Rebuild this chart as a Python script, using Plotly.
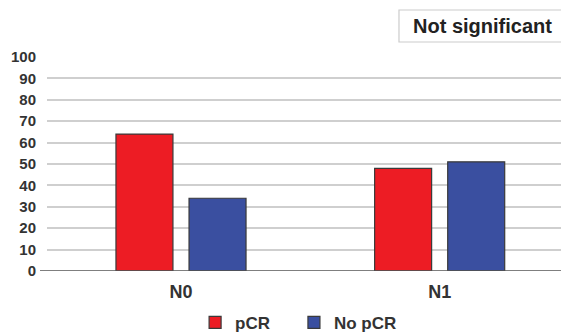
import plotly.graph_objects as go

categories = ["N0", "N1"]
pcr_values = [64, 48]
no_pcr_values = [34, 51]
y_ticks = [0, 10, 20, 30, 40, 50, 60, 70, 80, 90, 100]
series_names = ["pCR\u00a0\u00a0\u00a0\u00a0", "No pCR"]

FONT = "Liberation Sans, Arial, sans-serif"

fig = go.Figure()
fig.add_trace(go.Bar(
    x=categories, y=pcr_values, name=series_names[0],
    marker=dict(color="#ED1C24", line=dict(color="#3a3a3a", width=1.2)),
))
fig.add_trace(go.Bar(
    x=categories, y=no_pcr_values, name=series_names[1],
    marker=dict(color="#3A4FA0", line=dict(color="#3a3a3a", width=1.2)),
))

# page has an 8px body margin, so figure is 8px smaller and shifted
fig.update_layout(
    width=561, height=328,
    margin=dict(l=39, r=0, t=49, b=65),
    paper_bgcolor="white", plot_bgcolor="white",
    barmode="group", bargap=0.435, bargroupgap=0.22,
    font=dict(family=FONT, color="#333333"),
    showlegend=True,
    legend=dict(
        orientation="h", xref="container", yref="container",
        x=0.518, xanchor="center", y=0.04, yanchor="middle",
        font=dict(size=17, weight="bold", color="#333333"),
        traceorder="normal",
    ),
    xaxis=dict(
        type="category", range=[-0.518, 1.5],
        showgrid=False, showline=False, zeroline=False,
        ticks="outside", ticklen=4, tickcolor="rgba(0,0,0,0)",
        tickfont=dict(size=18, weight="bold", color="#333333"),
    ),
    yaxis=dict(
        range=[0, 100], tickvals=y_ticks,
        showgrid=True, gridcolor="#cfcfcf", gridwidth=1.5,
        zeroline=False, showline=False,
        ticks="outside", ticklen=7, tickcolor="rgba(0,0,0,0)",
        tickfont=dict(size=15, weight="bold", color="#333333"),
    ),
    shapes=[
        dict(type="line", xref="paper", yref="y",
             x0=-0.0134, x1=1, y0=0, y1=0,
             line=dict(color="#555555", width=1.5)),
        dict(type="rect", xref="paper", yref="paper",
             x0=0.6743, x1=0.9962, y0=1.070, y1=1.2196,
             fillcolor="white", line=dict(color="#cccccc", width=1.2)),
    ],
    annotations=[dict(
        text="Not significant", xref="paper", yref="paper",
        x=0.835, y=1.145, xanchor="center", yanchor="middle",
        showarrow=False,
        font=dict(size=20, weight="bold", color="#222222"),
    )],
)

fig.write_html("out.html")
